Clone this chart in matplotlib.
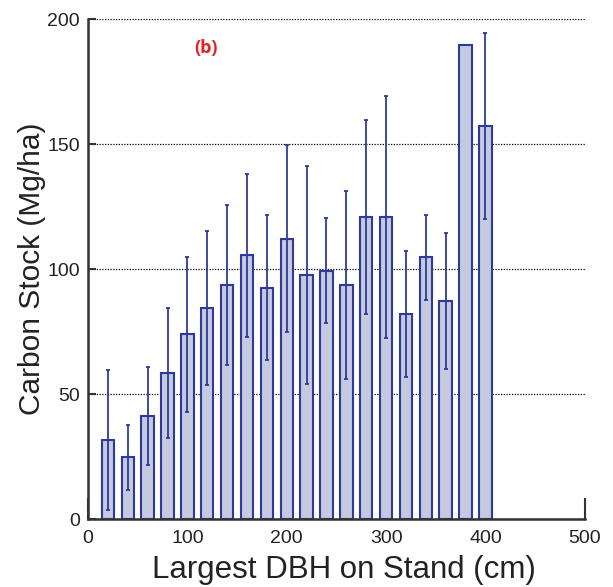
import numpy as np
import matplotlib
matplotlib.use("Agg")
import matplotlib.pyplot as plt

# =====================================
# Data
# =====================================
dbh_class = [20, 40, 60, 80, 100, 120, 140, 160, 180, 200,
             220, 240, 260, 280, 300, 320, 340, 360, 380, 400]
carbon_mean = [31.6, 24.7, 41.2, 58.5, 74.0, 84.5, 93.7, 105.5, 92.5, 112.1,
               97.5, 99.3, 93.7, 120.9, 120.9, 82.1, 104.8, 87.1, 189.5, 157.3]
carbon_err = [28.0, 13.0, 19.5, 26.0, 31.0, 30.8, 32.0, 32.7, 29.0, 37.4,
              43.6, 21.0, 37.7, 38.9, 48.3, 25.3, 17.0, 27.2, 0.0, 37.3]

x_ticks = [0, 100, 200, 300, 400, 500]
y_ticks = [0, 50, 100, 150, 200]

fill_color = "#c5cae0"
edge_color = "#2e3a9a"

plt.rcParams['font.family'] = ['Liberation Sans', 'DejaVu Sans']

fig = plt.figure(figsize=(6.13, 5.87), dpi=100)
ax = fig.add_axes([0.1436, 0.1158, 0.8104, 0.8518])

ax.bar(dbh_class, carbon_mean, width=12.5, color=fill_color,
       edgecolor=edge_color, linewidth=1.5, zorder=2)
ax.errorbar(dbh_class, carbon_mean, yerr=carbon_err, fmt='none',
            ecolor=edge_color, elinewidth=1.3, capsize=1.5, capthick=1.3, zorder=3)

ax.set_xlim(0, 500)
ax.set_ylim(0, 200)
ax.set_xticks(x_ticks)
ax.set_yticks(y_ticks)
ax.set_axisbelow(True)
ax.yaxis.grid(True, linestyle=(0, (1, 1.2)), color='black', linewidth=0.9)

for side in ['top', 'right']:
    ax.spines[side].set_visible(False)
for side in ['left', 'bottom']:
    ax.spines[side].set_color('#333333')
    ax.spines[side].set_linewidth(1.8)

ax.tick_params(axis='x', direction='in', length=15, width=1.5, color='#333333',
               labelsize=14, pad=8, labelcolor='#222222')
ax.tick_params(axis='y', direction='in', length=6, width=1.5, color='#333333',
               labelsize=14, pad=6, labelcolor='#222222')

ax.set_xlabel("Largest DBH on Stand (cm)", fontsize=22.5, color='#222222')
ax.xaxis.set_label_coords(0.515, -0.072)
ax.set_ylabel("Carbon Stock (Mg/ha)", fontsize=21.5, labelpad=1, color='#222222')

ax.text(118.5, 188.6, "(b)", color='#e8202a', fontsize=13, fontweight='bold',
        ha='center', va='center', family=['Open Sans', 'DejaVu Sans'])

fig.savefig("out.png", dpi=100)
